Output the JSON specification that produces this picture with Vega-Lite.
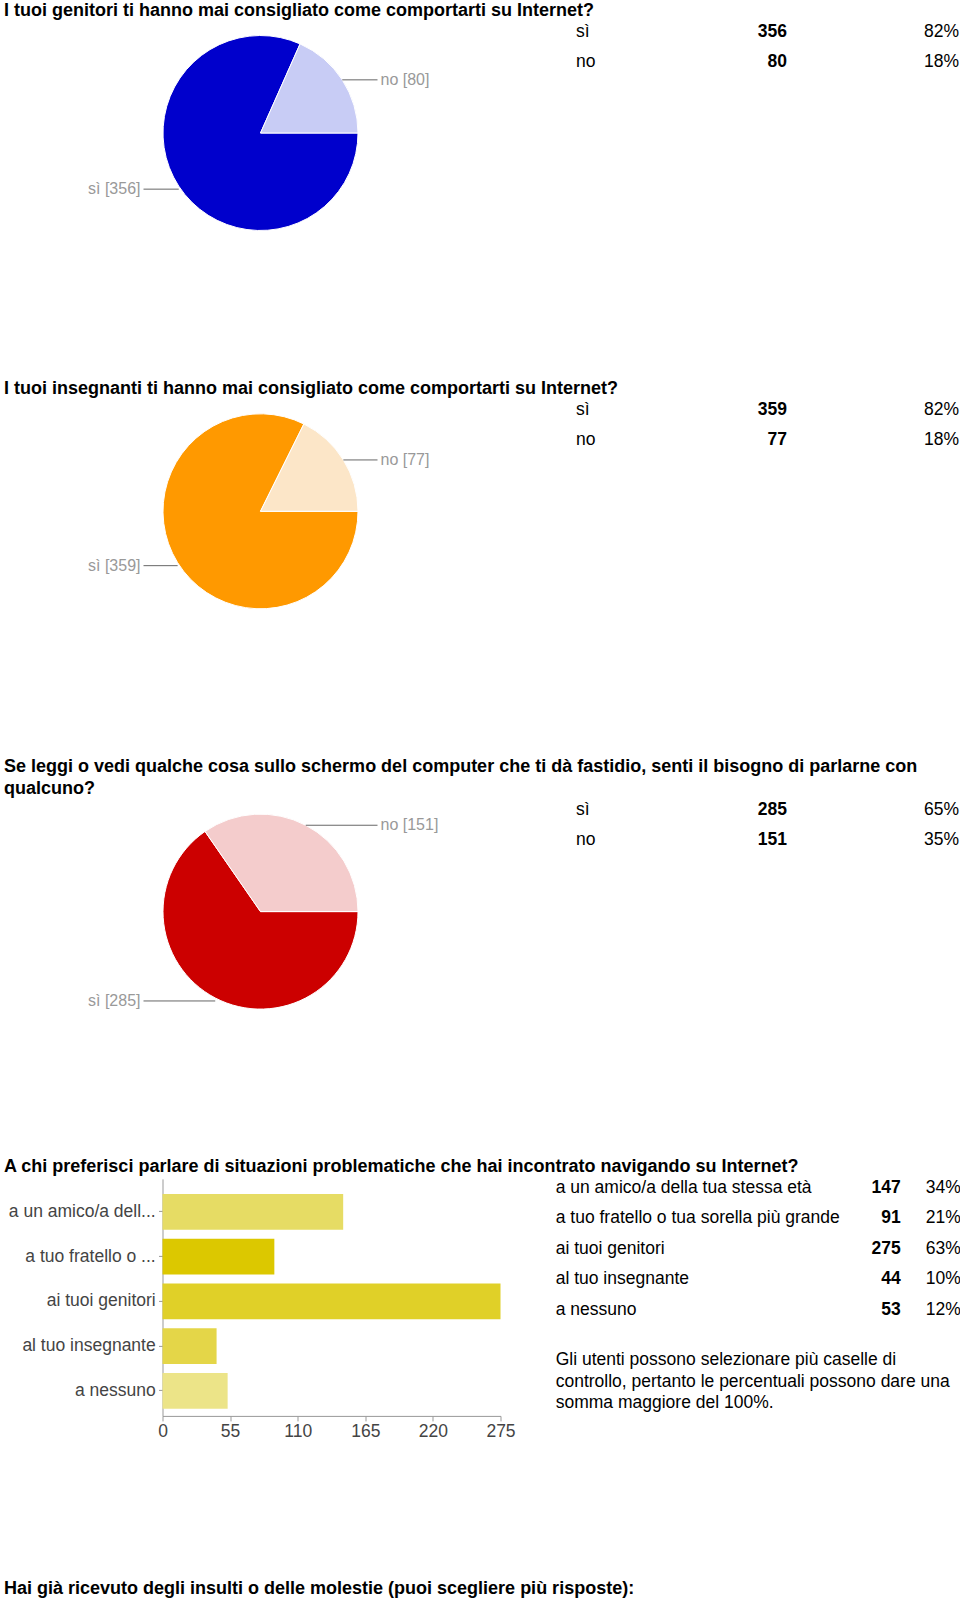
{
  "$schema": "https://vega.github.io/schema/vega-lite/v6.json",
  "padding": {"left": 4, "top": 1, "right": 0, "bottom": 0},
  "background": "#ffffff",
  "config": {
    "font": "Liberation Sans",
    "view": {"stroke": null},
    "title": {"anchor": "start", "fontSize": 18, "fontWeight": "bold", "color": "#000000", "offset": 3, "frame": "group", "lineHeight": 22, "font": "Liberation Sans"}
  },
  "datasets": {
    "q1": [{"answer": "sì", "count": 356, "pct": 0.82}, {"answer": "no", "count": 80, "pct": 0.18}],
    "q2": [{"answer": "sì", "count": 359, "pct": 0.82}, {"answer": "no", "count": 77, "pct": 0.18}],
    "q3": [{"answer": "sì", "count": 285, "pct": 0.65}, {"answer": "no", "count": 151, "pct": 0.35}],
    "q4": [
      {"answer": "a un amico/a della tua stessa età", "short": "a un amico/a dell...", "count": 147, "pct": 0.34},
      {"answer": "a tuo fratello o tua sorella più grande", "short": "a tuo fratello o ...", "count": 91, "pct": 0.21},
      {"answer": "ai tuoi genitori", "short": "ai tuoi genitori", "count": 275, "pct": 0.63},
      {"answer": "al tuo insegnante", "short": "al tuo insegnante", "count": 44, "pct": 0.10},
      {"answer": "a nessuno", "short": "a nessuno", "count": 53, "pct": 0.12}
    ]
  },
  "spacing": 137.3,
  "resolve": {"scale": {"color": "independent", "theta": "independent"}},
  "vconcat": [
    {
      "title": {"text": "I tuoi genitori ti hanno mai consigliato come comportarti su Internet?"},
      "spacing": 59,
      "hconcat": [
        {
          "width": 513, "height": 218,
          "data": {"name": "q1"},
          "transform": [
            {"joinaggregate": [{"op": "sum", "field": "count", "as": "total"}]},
            {"window": [{"op": "sum", "field": "count", "as": "cum"}], "sort": [{"field": "answer", "order": "descending"}], "frame": [null, 0]},
            {"calculate": "(datum.cum - datum.count / 2) / datum.total * 2 * PI + PI / 2", "as": "mid"},
            {"calculate": "97.5 * sin(datum.mid)", "as": "ex"},
            {"calculate": "97.5 * cos(datum.mid) - (datum.ex < 0 ? 3 : 0)", "as": "ey"},
            {"calculate": "datum.ex >= 0 ? 117 : -117", "as": "lx"},
            {"calculate": "datum.answer + ' [' + datum.count + ']'", "as": "lab"}
          ],
          "layer": [
            {
              "mark": {"type": "arc", "outerRadius": 97.5, "stroke": "#ffffff", "strokeWidth": 1},
              "encoding": {
                "theta": {"field": "count", "type": "quantitative", "stack": true, "scale": {"range": [1.5707963, 7.8539816], "nice": false}},
                "order": {"field": "answer", "sort": "descending"},
                "color": {"field": "answer", "type": "nominal", "scale": {"domain": ["sì", "no"], "range": ["#0000cc", "#c8ccf5"]}, "legend": null}
              }
            },
            {
              "mark": {"type": "rule", "color": "#666666", "strokeWidth": 1},
              "encoding": {
                "x": {"field": "ex", "type": "quantitative", "scale": {"domain": [-256.5, 256.5], "nice": false, "zero": false}, "axis": null},
                "x2": {"field": "lx"},
                "y": {"field": "ey", "type": "quantitative", "scale": {"domain": [-109, 109], "nice": false, "zero": false}, "axis": null}
              }
            },
            {
              "transform": [{"filter": "datum.ex >= 0"}],
              "mark": {"type": "text", "align": "left", "baseline": "middle", "dx": 3, "fontSize": 16, "color": "#999999"},
              "encoding": {"x": {"field": "lx", "type": "quantitative"}, "y": {"field": "ey", "type": "quantitative"}, "text": {"field": "lab"}}
            },
            {
              "transform": [{"filter": "datum.ex < 0"}],
              "mark": {"type": "text", "align": "right", "baseline": "middle", "dx": -3, "fontSize": 16, "color": "#999999"},
              "encoding": {"x": {"field": "lx", "type": "quantitative"}, "y": {"field": "ey", "type": "quantitative"}, "text": {"field": "lab"}}
            }
          ]
        },
        {
          "width": 70, "height": {"step": 30},
          "data": {"name": "q1"},
          "mark": {"type": "text", "align": "left", "baseline": "middle", "x": 0, "dy": -7.5, "fontSize": 17.5, "color": "#000000"},
          "encoding": {"y": {"field": "answer", "type": "nominal", "sort": null, "scale": {"type": "band", "paddingInner": 0, "paddingOuter": 0}, "axis": null}, "text": {"field": "answer"}}
        },
        {
          "width": 82, "height": {"step": 30},
          "data": {"name": "q1"},
          "mark": {"type": "text", "align": "right", "baseline": "middle", "x": "width", "dy": -7.5, "fontSize": 17.5, "fontWeight": "bold", "color": "#000000"},
          "encoding": {"y": {"field": "answer", "type": "nominal", "sort": null, "scale": {"type": "band", "paddingInner": 0, "paddingOuter": 0}, "axis": null}, "text": {"field": "count"}}
        },
        {
          "width": 113, "height": {"step": 30},
          "data": {"name": "q1"},
          "mark": {"type": "text", "align": "right", "baseline": "middle", "x": "width", "dy": -7.5, "fontSize": 17.5, "color": "#000000"},
          "encoding": {"y": {"field": "answer", "type": "nominal", "sort": null, "scale": {"type": "band", "paddingInner": 0, "paddingOuter": 0}, "axis": null}, "text": {"field": "pct", "format": ".0%"}}
        }
      ]
    },
    {
      "title": {"text": "I tuoi insegnanti ti hanno mai consigliato come comportarti su Internet?"},
      "spacing": 59,
      "hconcat": [
        {
          "width": 513, "height": 218,
          "data": {"name": "q2"},
          "transform": [
            {"joinaggregate": [{"op": "sum", "field": "count", "as": "total"}]},
            {"window": [{"op": "sum", "field": "count", "as": "cum"}], "sort": [{"field": "answer", "order": "descending"}], "frame": [null, 0]},
            {"calculate": "(datum.cum - datum.count / 2) / datum.total * 2 * PI + PI / 2", "as": "mid"},
            {"calculate": "97.5 * sin(datum.mid)", "as": "ex"},
            {"calculate": "97.5 * cos(datum.mid) - (datum.ex < 0 ? 3 : 0)", "as": "ey"},
            {"calculate": "datum.ex >= 0 ? 117 : -117", "as": "lx"},
            {"calculate": "datum.answer + ' [' + datum.count + ']'", "as": "lab"}
          ],
          "layer": [
            {
              "mark": {"type": "arc", "outerRadius": 97.5, "stroke": "#ffffff", "strokeWidth": 1},
              "encoding": {
                "theta": {"field": "count", "type": "quantitative", "stack": true, "scale": {"range": [1.5707963, 7.8539816], "nice": false}},
                "order": {"field": "answer", "sort": "descending"},
                "color": {"field": "answer", "type": "nominal", "scale": {"domain": ["sì", "no"], "range": ["#ff9900", "#fce6c8"]}, "legend": null}
              }
            },
            {
              "mark": {"type": "rule", "color": "#666666", "strokeWidth": 1},
              "encoding": {
                "x": {"field": "ex", "type": "quantitative", "scale": {"domain": [-256.5, 256.5], "nice": false, "zero": false}, "axis": null},
                "x2": {"field": "lx"},
                "y": {"field": "ey", "type": "quantitative", "scale": {"domain": [-109, 109], "nice": false, "zero": false}, "axis": null}
              }
            },
            {
              "transform": [{"filter": "datum.ex >= 0"}],
              "mark": {"type": "text", "align": "left", "baseline": "middle", "dx": 3, "fontSize": 16, "color": "#999999"},
              "encoding": {"x": {"field": "lx", "type": "quantitative"}, "y": {"field": "ey", "type": "quantitative"}, "text": {"field": "lab"}}
            },
            {
              "transform": [{"filter": "datum.ex < 0"}],
              "mark": {"type": "text", "align": "right", "baseline": "middle", "dx": -3, "fontSize": 16, "color": "#999999"},
              "encoding": {"x": {"field": "lx", "type": "quantitative"}, "y": {"field": "ey", "type": "quantitative"}, "text": {"field": "lab"}}
            }
          ]
        },
        {
          "width": 70, "height": {"step": 30},
          "data": {"name": "q2"},
          "mark": {"type": "text", "align": "left", "baseline": "middle", "x": 0, "dy": -7.5, "fontSize": 17.5, "color": "#000000"},
          "encoding": {"y": {"field": "answer", "type": "nominal", "sort": null, "scale": {"type": "band", "paddingInner": 0, "paddingOuter": 0}, "axis": null}, "text": {"field": "answer"}}
        },
        {
          "width": 82, "height": {"step": 30},
          "data": {"name": "q2"},
          "mark": {"type": "text", "align": "right", "baseline": "middle", "x": "width", "dy": -7.5, "fontSize": 17.5, "fontWeight": "bold", "color": "#000000"},
          "encoding": {"y": {"field": "answer", "type": "nominal", "sort": null, "scale": {"type": "band", "paddingInner": 0, "paddingOuter": 0}, "axis": null}, "text": {"field": "count"}}
        },
        {
          "width": 113, "height": {"step": 30},
          "data": {"name": "q2"},
          "mark": {"type": "text", "align": "right", "baseline": "middle", "x": "width", "dy": -7.5, "fontSize": 17.5, "color": "#000000"},
          "encoding": {"y": {"field": "answer", "type": "nominal", "sort": null, "scale": {"type": "band", "paddingInner": 0, "paddingOuter": 0}, "axis": null}, "text": {"field": "pct", "format": ".0%"}}
        }
      ]
    },
    {
      "title": {"text": ["Se leggi o vedi qualche cosa sullo schermo del computer che ti dà fastidio, senti il bisogno di parlarne con", "qualcuno?"]},
      "spacing": 59,
      "hconcat": [
        {
          "width": 513, "height": 218,
          "data": {"name": "q3"},
          "transform": [
            {"joinaggregate": [{"op": "sum", "field": "count", "as": "total"}]},
            {"window": [{"op": "sum", "field": "count", "as": "cum"}], "sort": [{"field": "answer", "order": "descending"}], "frame": [null, 0]},
            {"calculate": "(datum.cum - datum.count / 2) / datum.total * 2 * PI + PI / 2", "as": "mid"},
            {"calculate": "97.5 * sin(datum.mid)", "as": "ex"},
            {"calculate": "97.5 * cos(datum.mid) - (datum.ex < 0 ? 3 : 0)", "as": "ey"},
            {"calculate": "datum.ex >= 0 ? 117 : -117", "as": "lx"},
            {"calculate": "datum.answer + ' [' + datum.count + ']'", "as": "lab"}
          ],
          "layer": [
            {
              "mark": {"type": "arc", "outerRadius": 97.5, "stroke": "#ffffff", "strokeWidth": 1},
              "encoding": {
                "theta": {"field": "count", "type": "quantitative", "stack": true, "scale": {"range": [1.5707963, 7.8539816], "nice": false}},
                "order": {"field": "answer", "sort": "descending"},
                "color": {"field": "answer", "type": "nominal", "scale": {"domain": ["sì", "no"], "range": ["#cc0000", "#f4cccc"]}, "legend": null}
              }
            },
            {
              "mark": {"type": "rule", "color": "#666666", "strokeWidth": 1},
              "encoding": {
                "x": {"field": "ex", "type": "quantitative", "scale": {"domain": [-256.5, 256.5], "nice": false, "zero": false}, "axis": null},
                "x2": {"field": "lx"},
                "y": {"field": "ey", "type": "quantitative", "scale": {"domain": [-109, 109], "nice": false, "zero": false}, "axis": null}
              }
            },
            {
              "transform": [{"filter": "datum.ex >= 0"}],
              "mark": {"type": "text", "align": "left", "baseline": "middle", "dx": 3, "fontSize": 16, "color": "#999999"},
              "encoding": {"x": {"field": "lx", "type": "quantitative"}, "y": {"field": "ey", "type": "quantitative"}, "text": {"field": "lab"}}
            },
            {
              "transform": [{"filter": "datum.ex < 0"}],
              "mark": {"type": "text", "align": "right", "baseline": "middle", "dx": -3, "fontSize": 16, "color": "#999999"},
              "encoding": {"x": {"field": "lx", "type": "quantitative"}, "y": {"field": "ey", "type": "quantitative"}, "text": {"field": "lab"}}
            }
          ]
        },
        {
          "width": 70, "height": {"step": 30},
          "data": {"name": "q3"},
          "mark": {"type": "text", "align": "left", "baseline": "middle", "x": 0, "dy": -7.5, "fontSize": 17.5, "color": "#000000"},
          "encoding": {"y": {"field": "answer", "type": "nominal", "sort": null, "scale": {"type": "band", "paddingInner": 0, "paddingOuter": 0}, "axis": null}, "text": {"field": "answer"}}
        },
        {
          "width": 82, "height": {"step": 30},
          "data": {"name": "q3"},
          "mark": {"type": "text", "align": "right", "baseline": "middle", "x": "width", "dy": -7.5, "fontSize": 17.5, "fontWeight": "bold", "color": "#000000"},
          "encoding": {"y": {"field": "answer", "type": "nominal", "sort": null, "scale": {"type": "band", "paddingInner": 0, "paddingOuter": 0}, "axis": null}, "text": {"field": "count"}}
        },
        {
          "width": 113, "height": {"step": 30},
          "data": {"name": "q3"},
          "mark": {"type": "text", "align": "right", "baseline": "middle", "x": "width", "dy": -7.5, "fontSize": 17.5, "color": "#000000"},
          "encoding": {"y": {"field": "answer", "type": "nominal", "sort": null, "scale": {"type": "band", "paddingInner": 0, "paddingOuter": 0}, "axis": null}, "text": {"field": "pct", "format": ".0%"}}
        }
      ]
    },
    {
      "title": {"text": "A chi preferisci parlare di situazioni problematiche che hai incontrato navigando su Internet?"},
      "spacing": 39.7,
      "hconcat": [
        {
          "spacing": 1.5,
          "hconcat": [
            {
              "width": 151.7, "height": 237,
              "data": {"name": "q4"},
              "mark": {"type": "text", "align": "right", "baseline": "middle", "x": "width", "fontSize": 17.5, "color": "#444444"},
              "encoding": {
                "y": {"field": "short", "type": "nominal", "sort": null, "scale": {"type": "band", "paddingInner": 0.2, "paddingOuter": 0.248, "align": 0.676}, "axis": null},
                "text": {"field": "short"}
              }
            },
            {
              "width": 338, "height": 237,
              "data": {"name": "q4"},
              "mark": {"type": "bar"},
              "encoding": {
                "y": {
                  "field": "short", "type": "nominal", "sort": null,
                  "scale": {"paddingInner": 0.2, "paddingOuter": 0.248, "align": 0.676},
                  "axis": {"title": null, "labels": false, "tickSize": 4, "tickColor": "#999999", "domainColor": "#999999", "minExtent": 0, "grid": false}
                },
                "x": {
                  "field": "count", "type": "quantitative",
                  "scale": {"domain": [0, 275], "nice": false},
                  "axis": {"title": null, "values": [0, 55, 110, 165, 220, 275], "labelFontSize": 17.5, "labelColor": "#444444", "labelFlush": false, "tickSize": 5, "tickColor": "#999999", "domainColor": "#999999", "grid": false}
                },
                "color": {
                  "field": "short", "type": "nominal",
                  "scale": {"domain": ["a un amico/a dell...", "a tuo fratello o ...", "ai tuoi genitori", "al tuo insegnante", "a nessuno"], "range": ["#e6dc64", "#dcc800", "#e0d028", "#e4d648", "#ece488"]},
                  "legend": null
                }
              }
            }
          ]
        },
        {
          "spacing": 18.5,
          "vconcat": [
            {
              "spacing": 10,
              "hconcat": [
                {
                  "width": 297, "height": {"step": 30.5},
                  "data": {"name": "q4"},
                  "mark": {"type": "text", "align": "left", "baseline": "middle", "x": 0, "dy": -6.25, "fontSize": 17.5, "color": "#000000"},
                  "encoding": {"y": {"field": "answer", "type": "nominal", "sort": null, "scale": {"type": "band", "paddingInner": 0, "paddingOuter": 0}, "axis": null}, "text": {"field": "answer"}}
                },
                {
                  "width": 38, "height": {"step": 30.5},
                  "data": {"name": "q4"},
                  "mark": {"type": "text", "align": "right", "baseline": "middle", "x": "width", "dy": -6.25, "fontSize": 17.5, "fontWeight": "bold", "color": "#000000"},
                  "encoding": {"y": {"field": "answer", "type": "nominal", "sort": null, "scale": {"type": "band", "paddingInner": 0, "paddingOuter": 0}, "axis": null}, "text": {"field": "count"}}
                },
                {
                  "width": 50, "height": {"step": 30.5},
                  "data": {"name": "q4"},
                  "mark": {"type": "text", "align": "right", "baseline": "middle", "x": "width", "dy": -6.25, "fontSize": 17.5, "color": "#000000"},
                  "encoding": {"y": {"field": "answer", "type": "nominal", "sort": null, "scale": {"type": "band", "paddingInner": 0, "paddingOuter": 0}, "axis": null}, "text": {"field": "pct", "format": ".0%"}}
                }
              ]
            },
            {
              "width": 403, "height": 20,
              "data": {"values": [{"note": "Gli utenti possono selezionare più caselle di\ncontrollo, pertanto le percentuali possono dare una\nsomma maggiore del 100%."}]},
              "mark": {"type": "text", "align": "left", "baseline": "middle", "x": 0, "fontSize": 17.5, "lineHeight": 21.5, "lineBreak": "\n", "color": "#000000"},
              "encoding": {"text": {"field": "note"}}
            }
          ]
        }
      ]
    },
    {
      "width": 900, "height": 18,
      "data": {"values": [{"q": "Hai già ricevuto degli insulti o delle molestie (puoi scegliere più risposte):"}]},
      "mark": {"type": "text", "align": "left", "baseline": "top", "x": 0, "y": 0, "dy": 2, "fontSize": 18, "fontWeight": "bold", "color": "#000000"},
      "encoding": {"text": {"field": "q"}}
    }
  ]
}
